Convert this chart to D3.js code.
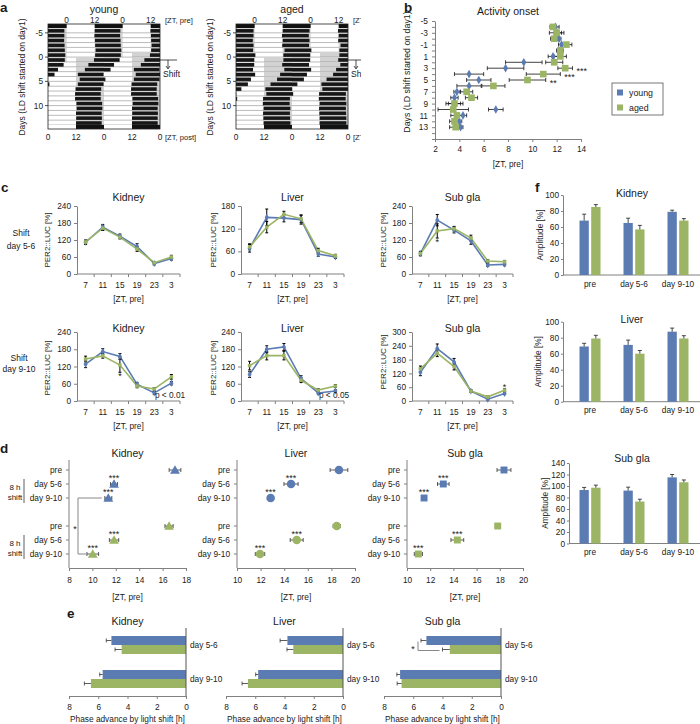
<!DOCTYPE html>
<html>
<head>
<meta charset="utf-8">
<script src="https://cdn.jsdelivr.net/npm/d3@7"></script>
<style>
  body { margin: 0; background: #fff; }
  #here { width: 700px; height: 724px; }
</style>
</head>
<body>
<div id="here"></div>
<script>
// Light-shift figure: actograms, activity onset, PER2::LUC rhythms, peak phase, phase advance, amplitude

// ---- a: actograms (per-day activity onset, ZT pre) ----
const actDays = [-6, -5, -4, -3, -2, -1, 0, 1, 2, 3, 4, 5, 6, 7, 8, 9, 10, 11, 12, 13, 14, 15];
const actOnsetYoung = [12.0, 12.0, 11.9, 12.1, 12.2, 12.4, 12.2, 11.7, 9.3, 7.8, 4.8, 5.6, 4.8, 3.8, 3.6, 3.6, 4.2, 4.3, 4.0, 4.1, 4.0, 4.0];
const actOnsetAged = [12.0, 12.0, 11.7, 12.0, 11.8, 12.8, 12.3, 12.3, 11.8, 12.7, 10.9, 9.6, 6.8, 4.6, 5.0, 3.6, 3.5, 3.8, 3.6, 3.7, 3.8, 3.8];
const actLengthYoung = 11;
const actLengthAged = 11.5;
const ldDarkPre = [12, 24];
const ldDarkPost = [4, 16];
const shiftDay = 1;
const actDayTicks = [-5, 0, 5, 10];
const actTopTicks = [0, 12, 24, 36];
const actTopLabels = ["0", "12", "0", "12"];
const actBottomTicks = [-8, 4, 16, 28, 40];
const actBottomLabels = ["0", "12", "0", "12", "0"];

// ---- b: activity onset ----
const onsetDays = [-4, -3, -2, -1, 0, 1, 2, 3, 4, 5, 6, 7, 8, 9, 10, 11, 12, 13];
const onsetYoung = [11.9, 12.1, 12.2, 12.4, 12.2, 11.7, 9.3, 7.8, 4.8, 5.6, 4.8, 3.8, 3.6, 3.6, 7.0, 4.3, 4.0, 4.1];
const onsetYoungErr = [0.3, 0.3, 0.15, 0.25, 0.2, 0.4, 1.5, 1.5, 1.2, 1.0, 1.0, 0.25, 0.3, 0.5, 0.6, 0.3, 0.2, 0.2];
const onsetAged = [11.7, 12.0, 11.8, 12.8, 12.3, 12.3, 11.8, 12.7, 10.9, 9.6, 6.8, 4.6, 5.0, 3.6, 3.5, 3.8, 3.6, 3.7];
const onsetAgedErr = [0.25, 0.6, 0.3, 0.45, 0.25, 0.5, 0.7, 0.6, 1.4, 1.5, 0.95, 0.5, 0.5, 0.7, 1.25, 0.5, 0.4, 0.5];
const onsetStars = ["", "", "", "", "", "", "", "***", "***", "**", "", "", "", "", "", "", "", ""];
const onsetXTicks = [2, 4, 6, 8, 10, 12, 14];
const onsetYTicks = [-5, -4, -3, -2, -1, 0, 1, 2, 3, 4, 5, 6, 7, 8, 9, 10, 11, 12, 13, 14, 15];
const onsetYLabels = [-5, -3, -1, 1, 3, 5, 7, 9, 11, 13];

// ---- c: PER2::LUC rhythms ----
const ztLabels = ["7", "11", "15", "19", "23", "3"];
const cKidney56Young = [112, 165, 133, 97, 37, 55];
const cKidney56YoungErr = [8, 10, 8, 10, 5, 6];
const cKidney56Aged = [113, 162, 130, 88, 40, 60];
const cKidney56AgedErr = [6, 8, 6, 8, 4, 6];
const cLiver56Young = [68, 150, 148, 144, 53, 45];
const cLiver56YoungErr = [10, 22, 10, 12, 6, 4];
const cLiver56Aged = [72, 124, 158, 146, 62, 48];
const cLiver56AgedErr = [8, 15, 8, 10, 6, 4];
const cSubgla56Young = [72, 190, 155, 117, 32, 34];
const cSubgla56YoungErr = [8, 20, 10, 12, 5, 5];
const cSubgla56Aged = [72, 152, 160, 127, 46, 43];
const cSubgla56AgedErr = [6, 25, 8, 10, 5, 5];
const cKidney910Young = [128, 172, 155, 58, 28, 62];
const cKidney910YoungErr = [12, 10, 10, 6, 5, 6];
const cKidney910Aged = [146, 157, 125, 52, 42, 84];
const cKidney910AgedErr = [10, 8, 25, 6, 5, 8];
const cLiver910Young = [92, 180, 188, 78, 28, 35];
const cLiver910YoungErr = [10, 12, 12, 10, 4, 4];
const cLiver910Aged = [123, 158, 158, 72, 38, 52];
const cLiver910AgedErr = [15, 15, 15, 8, 5, 5];
const cSubgla910Young = [125, 228, 170, 43, 8, 33];
const cSubgla910YoungErr = [15, 20, 15, 5, 4, 5];
const cSubgla910Aged = [140, 208, 150, 43, 18, 47];
const cSubgla910AgedErr = [12, 15, 15, 5, 4, 6];
const cSubgla56Stars = ["", "*", "", "", "", ""];
const cKidney910Stars = ["", "", "*", "", "", ""];
const cSubgla910Stars = ["", "", "", "", "", "*"];

// ---- d: peak phase (first three rows young, last three aged) ----
const dRows = ["pre", "day 5-6", "day 9-10", "pre", "day 5-6", "day 9-10"];
const dKidneyPeak = [17.06, 11.85, 11.36, 16.55, 11.85, 10.03];
const dKidneyErr = [0.5, 0.3, 0.3, 0.35, 0.4, 0.5];
const dLiverPeak = [18.64, 14.58, 12.85, 18.45, 15.06, 11.95];
const dLiverErr = [0.75, 0.6, 0.2, 0.3, 0.55, 0.4];
const dSubglaPeak = [18.36, 13.13, 11.47, 17.82, 14.34, 10.98];
const dSubglaErr = [0.6, 0.5, 0.2, 0.2, 0.55, 0.35];
const dStars = ["", "***", "***", "", "***", "***"];
const dKidneyTicks = [8, 10, 12, 14, 16, 18];
const dOrganTicks = [10, 12, 14, 16, 18, 20];

// ---- e: phase advance ----
const eDays = ["day 5-6", "day 9-10"];
const eKidneyYoung = [5.1, 5.7];
const eKidneyYoungErr = [0.35, 0.2];
const eKidneyAged = [4.4, 6.5];
const eKidneyAgedErr = [0.45, 0.45];
const eLiverYoung = [3.8, 5.8];
const eLiverYoungErr = [0.5, 0.17];
const eLiverAged = [3.4, 6.5];
const eLiverAgedErr = [0.43, 0.4];
const eSubglaYoung = [5.1, 6.9];
const eSubglaYoungErr = [0.37, 0.22];
const eSubglaAged = [3.5, 6.8];
const eSubglaAgedErr = [0.5, 0.3];
const eTicks = [8, 6, 4, 2, 0];

// ---- f: amplitude ----
const fGroups = ["pre", "day 5-6", "day 9-10"];
const fKidneyYoung = [68, 65, 79];
const fKidneyYoungErr = [8, 6, 2];
const fKidneyAged = [85, 57, 68];
const fKidneyAgedErr = [3, 5, 2.5];
const fLiverYoung = [69, 71, 87.5];
const fLiverYoungErr = [4, 6, 4.5];
const fLiverAged = [79, 60, 79];
const fLiverAgedErr = [4, 4, 3.5];
const fSubglaYoung = [93, 92, 115];
const fSubglaYoungErr = [4.5, 6, 5];
const fSubglaAged = [97, 73, 106.5];
const fSubglaAgedErr = [4.5, 4, 4];

const FONT = '"Liberation Sans", Arial, Helvetica, sans-serif';
const BLUE = "#5b7bb3";
const GREEN = "#9bb565";
const AXIS = "#808080";
const INK = "#1a1a1a";
const TICK = 8.3;

const svg = d3.select("#here")
  .append("svg")
  .attr("width", 700)
  .attr("height", 724)
  .style("font-family", FONT)
  .style("background", "#fff");

function txt(g, x, y, s, size, anchor, weight) {
  return g.append("text")
    .attr("x", x)
    .attr("y", y)
    .attr("font-size", size)
    .attr("text-anchor", anchor || "start")
    .attr("font-weight", weight || "normal")
    .attr("fill", INK)
    .text(s);
}

function vtxt(g, x, y, s, size) {
  return g.append("text")
    .attr("transform", `translate(${x},${y}) rotate(-90)`)
    .attr("text-anchor", "middle")
    .attr("font-size", size)
    .attr("fill", INK)
    .text(s);
}

function styleAxis(a) {
  a.select(".domain").attr("stroke", AXIS);
  a.selectAll(".tick line").attr("stroke", AXIS);
  a.selectAll(".tick text")
    .attr("font-size", TICK)
    .attr("fill", INK)
    .attr("font-family", FONT);
}

function seg(g, x1, y1, x2, y2, col, w) {
  return g.append("line")
    .attr("x1", x1).attr("y1", y1)
    .attr("x2", x2).attr("y2", y2)
    .attr("stroke", col)
    .attr("stroke-width", w || 1);
}

function hErr(g, x, yy, v, e, cap, col) {
  seg(g, x(v - e), yy, x(v + e), yy, col, 0.8);
  [v - e, v + e].forEach(t => seg(g, x(t), yy - cap, x(t), yy + cap, col, 0.8));
}

function vErr(g, xx, y, v, e, cap, col) {
  seg(g, xx, y(v - e), xx, y(v + e), col, 1);
  [v - e, v + e].forEach(t => seg(g, xx - cap, y(t), xx + cap, y(t), col, 1));
}

// ================= a: actograms =================
function actogram(left, onset, len, title) {
  const g = svg.append("g");
  const x = d3.scaleLinear().domain([-8, 40]).range([left, left + 112]);
  const y = d3.scaleLinear().domain([-6, 14]).range([28, 125]);
  const rows = actDays.filter(d => d >= -5 && d <= 14);
  const clip = (a, b) => {
    const lo = Math.max(a, -8), hi = Math.min(b, 40);
    return hi > lo ? [[lo, hi]] : [];
  };

  rows.forEach(d => {
    const top = y(d - 1), base = y(d), h = base - top;
    // dark phase of the LD cycle (grey)
    actDays.forEach(k => {
      if (Math.abs(k - d) > 1) return;
      const off = 24 * (k - d);
      const dark = k >= shiftDay ? ldDarkPost : ldDarkPre;
      clip(dark[0] + off, dark[1] + off).forEach(s => {
        g.append("rect")
          .attr("x", x(s[0])).attr("y", top)
          .attr("width", x(s[1]) - x(s[0])).attr("height", h)
          .attr("fill", "#d2d2d2");
      });
    });
    // wheel running activity (double plotted)
    actDays.forEach((k, i) => {
      if (Math.abs(k - d) > 1) return;
      const off = 24 * (k - d);
      clip(onset[i] + off, onset[i] + len + off).forEach(s => {
        g.append("rect")
          .attr("x", x(s[0])).attr("y", top + h * 0.22)
          .attr("width", x(s[1]) - x(s[0])).attr("height", h * 0.78)
          .attr("fill", "#161616");
      });
    });
    seg(g, x(-8), base, x(40), base, "#777", 0.5);
  });

  // LD bars
  const bar = (y0, dark) => {
    g.append("rect")
      .attr("x", x(-8)).attr("y", y0)
      .attr("width", x(40) - x(-8)).attr("height", 4)
      .attr("fill", "#fff");
    [-24, 0, 24].forEach(off => clip(dark[0] + off, dark[1] + off).forEach(s => {
      g.append("rect")
        .attr("x", x(s[0])).attr("y", y0)
        .attr("width", x(s[1]) - x(s[0])).attr("height", 4)
        .attr("fill", "#111");
    }));
  };
  bar(24, ldDarkPre);
  bar(125, ldDarkPost);

  g.append("rect")
    .attr("x", x(-8)).attr("y", 24)
    .attr("width", x(40) - x(-8)).attr("height", 105)
    .attr("fill", "none")
    .attr("stroke", "#222")
    .attr("stroke-width", 0.8);

  actDayTicks.forEach(d => {
    seg(g, x(-8) - 3, y(d), x(-8), y(d), "#222", 0.8);
    txt(g, x(-8) - 5, y(d) + 3, d, TICK, "end");
  });
  actTopTicks.forEach((t, i) => txt(g, x(t), 22.5, actTopLabels[i], TICK, "middle"));
  txt(g, x(40) + 5, 22.5, "[ZT, pre]", 7.6);
  actBottomTicks.forEach((t, i) => txt(g, x(t), 140, actBottomLabels[i], TICK, "middle"));
  txt(g, x(40) + 5, 140, "[ZT, post]", 7.6);

  txt(g, (x(-8) + x(40)) / 2, 13, title, 10.5, "middle");
  vtxt(g, x(-8) - 23, 77, "Days (LD shift started on day1)", 8.5);

  // shift marker
  const sy = y(0.6);
  seg(g, x(40), sy, x(40) + 17, sy, "#222", 0.8);
  seg(g, x(40) + 8, sy, x(40) + 8, sy + 8, "#222", 0.8);
  g.append("path")
    .attr("d", `M${x(40) + 6},${sy + 6} L${x(40) + 8},${sy + 9} L${x(40) + 10},${sy + 6}`)
    .attr("fill", "none").attr("stroke", "#222").attr("stroke-width", 0.8);
  txt(g, x(40) + 3, sy + 17, "Shift", 8.5);
}

actogram(48, actOnsetYoung, actLengthYoung, "young");
actogram(236, actOnsetAged, actLengthAged, "aged");

// panel b sits on top of the cut-off labels of panel a
svg.append("rect")
  .attr("x", 361).attr("y", 0)
  .attr("width", 339).attr("height", 180)
  .attr("fill", "#fff");

// ================= b: activity onset =================
const gb = svg.append("g");
const bx = d3.scaleLinear().domain([2, 14]).range([435, 581]);
const by = d3.scaleLinear().domain([-5, 15]).range([21, 139]);

gb.append("g")
  .attr("transform", "translate(0,139)")
  .call(d3.axisBottom(bx).tickValues(onsetXTicks).tickSize(3).tickSizeOuter(0).tickPadding(4))
  .call(styleAxis);
gb.append("g")
  .attr("transform", "translate(435,0)")
  .call(d3.axisLeft(by).tickValues(onsetYTicks)
    .tickFormat(d => onsetYLabels.includes(d) ? d : "")
    .tickSize(3).tickSizeOuter(0).tickPadding(4))
  .call(styleAxis);

onsetDays.forEach((d, i) => {
  hErr(gb, bx, by(d), onsetYoung[i], onsetYoungErr[i], 2, "#111");
  hErr(gb, bx, by(d), onsetAged[i], onsetAgedErr[i], 2, "#111");
});
gb.selectAll(".young")
  .data(onsetDays)
  .enter()
  .append("path")
  .attr("d", d3.symbol().type(d3.symbolDiamond).size(22))
  .attr("transform", (d, i) => `translate(${bx(onsetYoung[i])},${by(d)})`)
  .attr("fill", BLUE);
gb.selectAll(".aged")
  .data(onsetDays)
  .enter()
  .append("path")
  .attr("d", d3.symbol().type(d3.symbolSquare).size(44))
  .attr("transform", (d, i) => `translate(${bx(onsetAged[i])},${by(d)})`)
  .attr("fill", GREEN);
onsetDays.forEach((d, i) => {
  if (onsetStars[i]) {
    txt(gb, bx(onsetAged[i] + onsetAgedErr[i]) + 4, by(d) + 5.5, onsetStars[i], 9);
  }
});

txt(gb, 508, 15, "Activity onset", 10.5, "middle");
txt(gb, 508, 167, "[ZT, pre]", TICK, "middle");
vtxt(gb, 410, 72, "Days (LD shift started on day1)", 8.8);

// legend
gb.append("rect")
  .attr("x", 612).attr("y", 83)
  .attr("width", 51).attr("height", 32)
  .attr("fill", "#fff")
  .attr("stroke", "#555")
  .attr("stroke-width", 0.8);
[["young", BLUE, 92.5], ["aged", GREEN, 107.5]].forEach(([name, col, yy]) => {
  gb.append("rect")
    .attr("x", 617).attr("y", yy - 3)
    .attr("width", 6).attr("height", 6)
    .attr("fill", col);
  txt(gb, 629, yy + 3, name, 8.8);
});

// ================= c: PER2::LUC rhythms =================
function lineChart(c) {
  const g = svg.append("g");
  const x = d3.scaleBand().domain(ztLabels).range([c.x0, c.x1]);
  const cx = d => x(d) + x.bandwidth() / 2;
  const y = d3.scaleLinear().domain([0, c.yMax]).range([c.yBase, c.yTop]);

  g.append("g")
    .attr("transform", `translate(${c.x0},0)`)
    .call(d3.axisLeft(y).tickValues(d3.range(0, c.yMax + 1, c.yStep))
      .tickSize(3).tickSizeOuter(0).tickPadding(3))
    .call(styleAxis);

  // category axis with tick marks between categories
  seg(g, c.x0, c.yBase, c.x1, c.yBase, AXIS);
  ztLabels.forEach(d => {
    seg(g, x(d) + x.bandwidth(), c.yBase, x(d) + x.bandwidth(), c.yBase + 3, AXIS);
    txt(g, cx(d), c.yBase + 14, d, TICK, "middle");
  });
  txt(g, (c.x0 + c.x1) / 2, c.yBase + 28, "[ZT, pre]", TICK, "middle");

  const line = d3.line()
    .x((d, i) => cx(ztLabels[i]))
    .y(d => y(d));
  g.append("path").datum(c.young).attr("d", line)
    .attr("fill", "none").attr("stroke", BLUE).attr("stroke-width", 1.6);
  g.append("path").datum(c.aged).attr("d", line)
    .attr("fill", "none").attr("stroke", GREEN).attr("stroke-width", 1.6);

  ztLabels.forEach((d, i) => {
    vErr(g, cx(d), y, c.young[i], c.youngErr[i], 1.5, "#000");
    vErr(g, cx(d), y, c.aged[i], c.agedErr[i], 1.5, "#000");
  });
  ztLabels.forEach((d, i) => {
    g.append("path")
      .attr("d", d3.symbol().type(d3.symbolDiamond).size(14))
      .attr("transform", `translate(${cx(d)},${y(c.young[i])})`)
      .attr("fill", BLUE);
    g.append("path")
      .attr("d", d3.symbol().type(d3.symbolSquare).size(12))
      .attr("transform", `translate(${cx(d)},${y(c.aged[i])})`)
      .attr("fill", GREEN);
  });

  if (c.stars) {
    c.stars.forEach((s, i) => {
      if (!s) return;
      const lo = Math.min(c.young[i] - c.youngErr[i], c.aged[i] - c.agedErr[i]);
      const hi = Math.max(c.young[i] + c.youngErr[i], c.aged[i] + c.agedErr[i]);
      const yy = c.starSide === "below" ? y(lo) + 7 : y(hi) + 1;
      txt(g, cx(ztLabels[i]), yy, s, 9, "middle");
    });
  }
  if (c.pText) txt(g, c.x1 - 10, c.yBase - 3, c.pText, 8.3, "middle");

  txt(g, (c.x0 + c.x1) / 2, c.titleY, c.title, 10.5, "middle");
  vtxt(g, c.labX, c.labY, "PER2::LUC [%]", 8);
}

const gc = svg.append("g");
txt(gc, 21, 236, "Shift", 8.5, "middle");
txt(gc, 21, 249, "day 5-6", 8.5, "middle");
txt(gc, 19, 361, "Shift", 8.5, "middle");
txt(gc, 19, 371.5, "day 9-10", 8.5, "middle");

lineChart({ x0: 77, x1: 180, yTop: 206, yBase: 274, yMax: 240, yStep: 60, title: "Kidney", titleY: 200.5,
  labX: 49.5, labY: 240, young: cKidney56Young, youngErr: cKidney56YoungErr, aged: cKidney56Aged, agedErr: cKidney56AgedErr });
lineChart({ x0: 241, x1: 344, yTop: 206, yBase: 274, yMax: 180, yStep: 60, title: "Liver", titleY: 200.5,
  labX: 216, labY: 240, young: cLiver56Young, youngErr: cLiver56YoungErr, aged: cLiver56Aged, agedErr: cLiver56AgedErr });
lineChart({ x0: 412, x1: 513, yTop: 206, yBase: 274, yMax: 240, yStep: 60, title: "Sub gla", titleY: 200.5,
  labX: 385.5, labY: 240, young: cSubgla56Young, youngErr: cSubgla56YoungErr, aged: cSubgla56Aged, agedErr: cSubgla56AgedErr,
  stars: cSubgla56Stars, starSide: "below" });
lineChart({ x0: 77, x1: 180, yTop: 332, yBase: 401, yMax: 240, yStep: 60, title: "Kidney", titleY: 331.5,
  labX: 49.5, labY: 368, young: cKidney910Young, youngErr: cKidney910YoungErr, aged: cKidney910Aged, agedErr: cKidney910AgedErr,
  stars: cKidney910Stars, starSide: "below", pText: "p < 0.01" });
lineChart({ x0: 241, x1: 344, yTop: 332, yBase: 401, yMax: 240, yStep: 60, title: "Liver", titleY: 331.5,
  labX: 216, labY: 368, young: cLiver910Young, youngErr: cLiver910YoungErr, aged: cLiver910Aged, agedErr: cLiver910AgedErr,
  pText: "p < 0.05" });
lineChart({ x0: 412, x1: 513, yTop: 332, yBase: 401, yMax: 300, yStep: 60, title: "Sub gla", titleY: 331.5,
  labX: 385.5, labY: 362, young: cSubgla910Young, youngErr: cSubgla910YoungErr, aged: cSubgla910Aged, agedErr: cSubgla910AgedErr,
  stars: cSubgla910Stars, starSide: "above" });

// ================= d: peak phase =================
const dSlots = [0, 1, 2, 3, 4, 5, 6];
const dRowSlot = [0, 1, 2, 4, 5, 6];

function dotChart(c) {
  const g = svg.append("g");
  const x = d3.scaleLinear().domain(c.domain).range([c.x0, c.x1]);
  const slot = d3.scalePoint().domain(dSlots).range([470, 554]);
  const ry = i => slot(dRowSlot[i]);

  seg(g, c.x0, 460, c.x0, 568, AXIS);
  g.append("g")
    .attr("transform", "translate(0,568)")
    .call(d3.axisBottom(x).tickValues(c.ticks).tickSize(3).tickSizeOuter(0).tickPadding(6))
    .call(styleAxis);
  txt(g, (c.x0 + c.x1) / 2, 600, "[ZT, pre]", TICK, "middle");
  txt(g, (c.x0 + c.x1) / 2, 457, c.title, 10.5, "middle");

  dRows.forEach((r, i) => {
    seg(g, c.x0 - 3, ry(i), c.x0, ry(i), AXIS);
    txt(g, c.x0 - 7, ry(i) + 3, r, TICK, "end");
  });
  c.peak.forEach((v, i) => {
    hErr(g, x, ry(i), v, c.err[i], 2, "#333");
  });
  c.peak.forEach((v, i) => {
    g.append("path")
      .attr("d", d3.symbol().type(c.shape).size(c.size))
      .attr("transform", `translate(${x(v)},${ry(i) + (c.shape === d3.symbolTriangle ? 1 : 0)})`)
      .attr("fill", i < 3 ? BLUE : GREEN);
    if (dStars[i]) txt(g, x(v), ry(i) - 3, dStars[i], 9, "middle");
  });
  return { g, x, ry };
}

const dk = dotChart({ x0: 69, x1: 186, domain: [8, 18], ticks: dKidneyTicks, title: "Kidney",
  peak: dKidneyPeak, err: dKidneyErr, shape: d3.symbolTriangle, size: 42 });
dotChart({ x0: 237, x1: 355, domain: [10, 20], ticks: dOrganTicks, title: "Liver",
  peak: dLiverPeak, err: dLiverErr, shape: d3.symbolCircle, size: 58 });
dotChart({ x0: 407, x1: 523, domain: [10, 20], ticks: dOrganTicks, title: "Sub gla",
  peak: dSubglaPeak, err: dSubglaErr, shape: d3.symbolSquare, size: 48 });

// 8 h shift brackets and young vs aged comparison (kidney)
[[1, 2], [4, 5]].forEach(([a, b]) => {
  const y1 = dk.ry(a), y2 = dk.ry(b);
  seg(dk.g, 24, y1 - 5, 24, y2 + 5, "#333", 0.8);
  txt(dk.g, 15, y1 + 6, "8 h", 8, "middle");
  txt(dk.g, 15, y2 + 2, "shift", 8, "middle");
});
{
  const bxv = 78;
  const yA = dk.ry(2), yB = dk.ry(5);
  dk.g.append("path")
    .attr("d", `M${dk.x(dKidneyPeak[2] - dKidneyErr[2]) - 3},${yA} H${bxv} V${yB} H${dk.x(dKidneyPeak[5] - dKidneyErr[5]) - 1}`)
    .attr("fill", "none")
    .attr("stroke", "#888")
    .attr("stroke-width", 1);
  txt(dk.g, bxv - 3, (yA + yB) / 2 + 6, "*", 9, "middle");
}

// ================= e: phase advance =================
function barH(c) {
  const g = svg.append("g");
  const x = d3.scaleLinear().domain([8, 0]).range([c.x0, c.x1]);
  const y = d3.scaleBand().domain(eDays).range([628, 696]);
  const bh = 9;
  const ends = [];

  eDays.forEach((d, i) => {
    const mid = y(d) + y.bandwidth() / 2;
    [[c.young, c.youngErr, BLUE, mid - bh], [c.aged, c.agedErr, GREEN, mid]].forEach(([v, e, col, top]) => {
      g.append("rect")
        .attr("x", x(v[i])).attr("y", top)
        .attr("width", x(0) - x(v[i])).attr("height", bh)
        .attr("fill", col);
      const ey = top + bh / 2;
      seg(g, x(v[i]), ey, x(v[i] + e[i]), ey, "#333", 0.8);
      seg(g, x(v[i] + e[i]), ey - 2, x(v[i] + e[i]), ey + 2, "#333", 0.8);
      ends.push([x(v[i] + e[i]), ey]);
    });
    txt(g, c.x1 + 4, mid + 3, d, TICK);
  });

  seg(g, x(0), 628, x(0), 696, "#555");
  g.append("g")
    .attr("transform", "translate(0,696)")
    .call(d3.axisBottom(x).tickValues(eTicks).tickSize(3).tickSizeOuter(0).tickPadding(5))
    .call(styleAxis);
  txt(g, (c.x0 + c.x1) / 2, 625, c.title, 10.5, "middle");
  txt(g, (c.x0 + c.x1) / 2, 722, "Phase advance by light shift [h]", 8.3, "middle");

  if (c.star) {
    const [xa, ya] = ends[0];
    const [xb, yb] = ends[1];
    g.append("path")
      .attr("d", `M${xa - 3},${ya + 1} V${yb + 1} H${xb - 3}`)
      .attr("fill", "none")
      .attr("stroke", "#888")
      .attr("stroke-width", 1);
    txt(g, xa - 8, (ya + yb) / 2 + 7, c.star, 9, "middle");
  }
}

barH({ x0: 69, x1: 186, title: "Kidney",
  young: eKidneyYoung, youngErr: eKidneyYoungErr, aged: eKidneyAged, agedErr: eKidneyAgedErr });
barH({ x0: 226, x1: 343, title: "Liver",
  young: eLiverYoung, youngErr: eLiverYoungErr, aged: eLiverAged, agedErr: eLiverAgedErr });
barH({ x0: 384, x1: 501, title: "Sub gla",
  young: eSubglaYoung, youngErr: eSubglaYoungErr, aged: eSubglaAged, agedErr: eSubglaAgedErr, star: "*" });

// ================= f: amplitude =================
function barV(c) {
  const g = svg.append("g");
  const x = d3.scaleBand().domain(fGroups).range([568, 700]);
  const y = d3.scaleLinear().domain([0, c.yMax]).range([c.yBase, c.yTop]);

  g.append("g")
    .attr("transform", `translate(${c.axisX},0)`)
    .call(d3.axisLeft(y).tickValues(d3.range(0, c.yMax + 1, 20)).tickSize(2).tickSizeOuter(0).tickPadding(2))
    .call(styleAxis);
  seg(g, c.axisX, c.yBase, 700, c.yBase, AXIS);

  fGroups.forEach((d, i) => {
    const mid = x(d) + x.bandwidth() / 2;
    [[c.young, c.youngErr, BLUE, mid - 10.5], [c.aged, c.agedErr, GREEN, mid + 1.2]].forEach(([v, e, col, left]) => {
      g.append("rect")
        .attr("x", left).attr("y", y(v[i]))
        .attr("width", 9.3).attr("height", c.yBase - y(v[i]))
        .attr("fill", col);
      const xx = left + 4.65;
      seg(g, xx, y(v[i]), xx, y(v[i] + e[i]), "#333", 0.9);
      seg(g, xx - 2, y(v[i] + e[i]), xx + 2, y(v[i] + e[i]), "#333", 0.9);
    });
    txt(g, mid, c.yBase + 11.5, d, TICK, "middle");
  });

  txt(g, 632, c.titleY, c.title, 10.5, "middle");
  vtxt(g, c.labX, (c.yTop + c.yBase) / 2, "Amplitude [%]", 8.3);
}

barV({ axisX: 563, yTop: 195, yBase: 275, yMax: 100, title: "Kidney", titleY: 197, labX: 543,
  young: fKidneyYoung, youngErr: fKidneyYoungErr, aged: fKidneyAged, agedErr: fKidneyAgedErr });
barV({ axisX: 563, yTop: 321.7, yBase: 401.7, yMax: 100, title: "Liver", titleY: 322.5, labX: 541,
  young: fLiverYoung, youngErr: fLiverYoungErr, aged: fLiverAged, agedErr: fLiverAgedErr });
barV({ axisX: 569, yTop: 463, yBase: 543.5, yMax: 140, title: "Sub gla", titleY: 462, labX: 548,
  young: fSubglaYoung, youngErr: fSubglaYoungErr, aged: fSubglaAged, agedErr: fSubglaAgedErr });

// ================= panel letters =================
[["a", 0, 11.5], ["b", 404, 11.5], ["c", 1, 192], ["d", 0, 453], ["e", 67, 618], ["f", 535, 192]]
  .forEach(([s, x, y]) => txt(svg, x, y, s, 13.5, "start", "bold"));
</script>
</body>
</html>
